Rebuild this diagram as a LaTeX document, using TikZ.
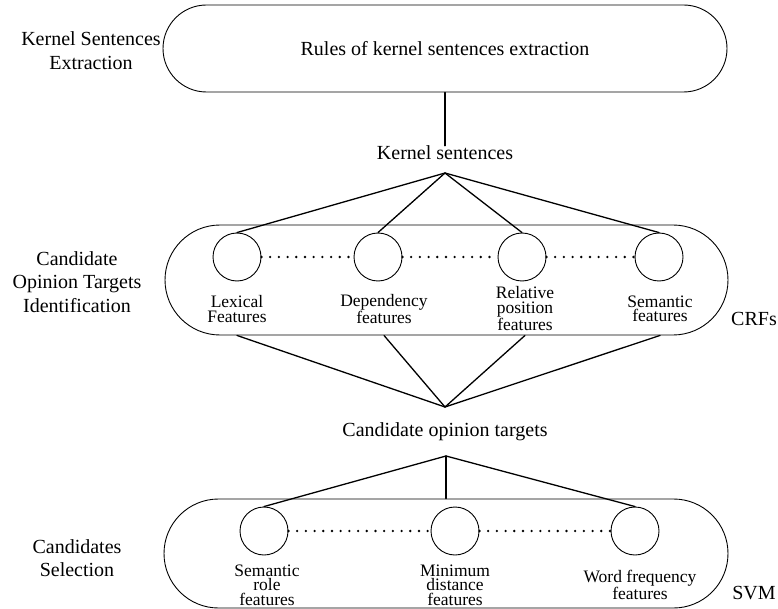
\documentclass[tikz,border=0pt]{standalone}
\usepackage{fontspec}
\setmainfont{Liberation Serif}
\usetikzlibrary{arrows}
\usetikzlibrary{positioning}

\begin{document}
\begin{tikzpicture}[line cap=round,line join=round,x=1pt,y=-1pt,
  stage/.style={draw,line width=0.9pt,minimum width=564pt,inner sep=0pt},
  feat/.style={draw,circle,line width=0.9pt,minimum size=48pt,inner sep=0pt},
  big/.style={font=\fontsize{20}{23.5}\selectfont,align=center,inner sep=0pt},
  small/.style={font=\fontsize{17.5}{14.5}\selectfont,align=center,inner sep=0pt},
  link/.style={line width=1.3pt},
  dots/.style={line width=2.6pt,dash pattern=on 0pt off 8.7pt}]
\useasboundingbox (0,0) rectangle (778,609);
\node[stage,big,rounded corners=43.5pt,minimum height=87pt] (rules) at (445,48.5) {Rules of kernel sentences extraction};
\node[big] (ksname) at (91,50.5) {Kernel Sentences\\Extraction};
\node[big] (kernel) at (445,153) {Kernel sentences};
\coordinate (kstop) at (445,173);
\draw[link] (rules.south) -- (kernel.north);
\node[stage,rounded corners=55pt,minimum height=110pt,minimum width=563pt] (crfbox) at (446.5,280) {};
\node[big] (cotname) at (77,282) {Candidate\\Opinion Targets\\Identification};
\node[big] (crf) at (754,319) {CRFs};
\node[feat] (lex) at (237,257) {};
\node[feat] (dep) at (378,257) {};
\node[feat] (rel) at (522,257) {};
\node[feat] (sem) at (659,257) {};
\node[small] (lexlab) at (237,309) {Lexical\\Features};
\node[small] (deplab) at (384,309) {Dependency\\features};
\node[small] (rellab) at (525,308.5) {Relative\\position\\features};
\node[small] (semlab) at (660,309) {Semantic\\features};
\draw[dots] (lex) -- (dep);
\draw[dots] (dep) -- (rel);
\draw[dots] (rel) -- (sem);
\draw[link] (kstop) -- (lex.north);
\draw[link] (kstop) -- (dep.north);
\draw[link] (kstop) -- (rel.north);
\draw[link] (kstop) -- (sem.north);
\node[big] (cand) at (445,432) {Candidate opinion targets};
\coordinate (cotbot) at (445,407);
\draw[link] (lexlab |- crfbox.south) -- (cotbot);
\draw[link] (deplab |- crfbox.south) -- (cotbot);
\draw[link] (rellab |- crfbox.south) -- (cotbot);
\draw[link] (semlab |- crfbox.south) -- (cotbot);
\node[stage,rounded corners=54.5pt,minimum height=109pt] (svmbox) at (446,553.5) {};
\node[big] (selname) at (77,558) {Candidates\\Selection};
\node[big] (svm) at (754,593) {SVM};
\coordinate (cottop) at (446,456);
\node[feat] (role) at (264,531) {};
\node[feat] (dist) at (455,531) {};
\node[feat] (freq) at (635,531) {};
\node[small] (rolelab) at (267,585) {Semantic\\role\\features};
\node[small] (distlab) at (455,585) {Minimum\\distance\\features};
\node[small] (freqlab) at (640,584.5) {Word frequency\\features};
\draw[dots] (role) -- (dist);
\draw[dots] (dist) -- (freq);
\draw[link] (cottop) -- (role.north);
\draw[link] (cottop) -- (svmbox.north);
\draw[link] (cottop) -- (freq.north);
\end{tikzpicture}
\end{document}
